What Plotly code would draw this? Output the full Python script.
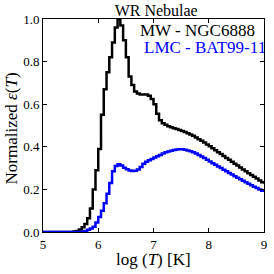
import plotly.graph_objects as go

logT = [round(5.0 + 0.05 * i, 2) for i in range(81)]

mw_ngc6888 = [0, 0, 0, 0, 0, 0, 0, 0, 0, 0, 0,
              0.002, 0.005, 0.012, 0.022, 0.038, 0.065, 0.11, 0.20, 0.29, 0.39,
              0.55, 0.67, 0.75, 0.82, 0.89, 0.96, 1.0, 0.97, 0.90, 0.82,
              0.73, 0.69, 0.66, 0.65, 0.645, 0.645, 0.645, 0.64, 0.625, 0.60,
              0.555, 0.525, 0.51, 0.503, 0.497, 0.492, 0.487, 0.483, 0.479, 0.474,
              0.469, 0.464, 0.458, 0.452, 0.444, 0.436, 0.428, 0.420, 0.411, 0.402,
              0.393, 0.384, 0.375, 0.366, 0.357, 0.348, 0.339, 0.330, 0.321, 0.312,
              0.303, 0.294, 0.285, 0.276, 0.268, 0.259, 0.251, 0.242, 0.234, 0.226]

lmc_bat99_11 = [0, 0, 0, 0, 0, 0, 0, 0, 0, 0, 0, 0, 0, 0,
                0.002, 0.005, 0.01, 0.016, 0.025, 0.045, 0.07,
                0.10, 0.135, 0.18, 0.23, 0.285, 0.31, 0.318, 0.312, 0.302, 0.295,
                0.289, 0.286, 0.287, 0.293, 0.305, 0.32, 0.33, 0.337, 0.343, 0.35,
                0.356, 0.362, 0.368, 0.374, 0.378, 0.382, 0.385, 0.387, 0.388, 0.388,
                0.386, 0.383, 0.379, 0.374, 0.368, 0.361, 0.354, 0.347, 0.339, 0.331,
                0.323, 0.316, 0.308, 0.300, 0.292, 0.285, 0.277, 0.270, 0.262, 0.255,
                0.248, 0.241, 0.234, 0.227, 0.220, 0.213, 0.207, 0.200, 0.194, 0.188]

xticks = [5, 6, 7, 8, 9]
yticks = [0.0, 0.2, 0.4, 0.6, 0.8, 1.0]

SERIF = "Liberation Serif"

fig = go.Figure()
fig.add_trace(go.Scatter(x=logT, y=mw_ngc6888, mode="lines", line_shape="hv",
                         line=dict(color="black", width=2.5), name="MW - NGC6888"))
fig.add_trace(go.Scatter(x=logT, y=lmc_bat99_11, mode="lines", line_shape="hv",
                         line=dict(color="#0000ff", width=2.5), name="LMC - BAT99-11"))

# legend-like labels
fig.add_annotation(x=0.965, y=0.947, xref="paper", yref="paper", xanchor="right", yanchor="middle",
                   text="MW - NGC6888", showarrow=False, borderpad=0,
                   font=dict(family=SERIF, size=17, color="black"))
fig.add_annotation(x=1.015, y=0.866, xref="paper", yref="paper", xanchor="right", yanchor="middle",
                   text="LMC - BAT99-11", showarrow=False, borderpad=0,
                   font=dict(family=SERIF, size=17, color="#0000ff"))

# axis titles
fig.add_annotation(x=0.5, y=-0.13, xref="paper", yref="paper", xanchor="center", yanchor="middle",
                   text="log (<i>T</i>) [K]", showarrow=False, borderpad=0,
                   font=dict(family=SERIF, size=17, color="black"))
fig.add_annotation(x=-0.143, y=0.488, xref="paper", yref="paper", xanchor="center", yanchor="middle",
                   text="Normalized <i>ε</i>(<i>T</i>)", showarrow=False, textangle=-90, borderpad=0,
                   font=dict(family=SERIF, size=17, color="black"))

axis_common = dict(showline=True, linecolor="black", linewidth=1, mirror="ticks",
                   ticks="inside", ticklen=4, tickcolor="black", showgrid=False,
                   zeroline=False, tickfont=dict(family=SERIF, size=13, color="black"))

fig.update_xaxes(range=[5, 9], tickvals=xticks, ticktext=[str(v) for v in xticks], **axis_common)
fig.update_yaxes(range=[0, 1.0], tickvals=yticks, ticktext=[f"{v:.1f}" for v in yticks], **axis_common)

fig.update_layout(
    width=274, height=274,
    margin=dict(l=43, r=7, t=19, b=42),
    paper_bgcolor="white", plot_bgcolor="white",
    showlegend=False,
    title=dict(text="WR Nebulae", x=0.57, xanchor="center", y=0.9635, yanchor="middle",
               font=dict(family=SERIF, size=16, color="black")),
)

fig.write_html("out.html", config={"displayModeBar": False},
               post_script="document.body.style.margin='0';document.body.style.padding='0';")
